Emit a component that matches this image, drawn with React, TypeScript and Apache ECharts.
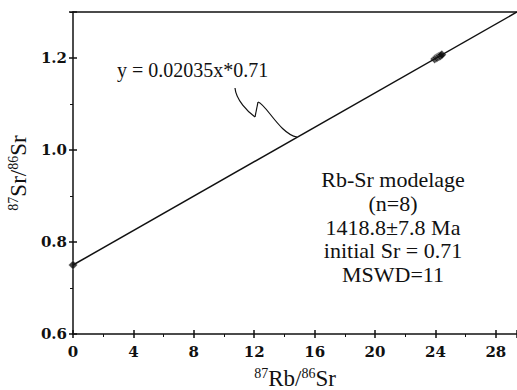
import React, { useEffect, useRef } from "react";
import * as echarts from "echarts";

const fitLine: [number, number][] = [
  [0, 0.75],
  [29.4, 1.3],
];
const samplePoints: [number, number][] = [
  [0, 0.75],
  [23.95, 1.198],
  [24.05, 1.2],
  [24.12, 1.201],
  [24.2, 1.203],
  [24.27, 1.204],
  [24.33, 1.205],
  [24.42, 1.207],
];
const xTicks = [0, 4, 8, 12, 16, 20, 24, 28];
const yTicks = [0.6, 0.8, 1.0, 1.2];
const equationText = "y = 0.02035x*0.71";
const infoLines = [
  "Rb-Sr modelage",
  "(n=8)",
  "1418.8±7.8 Ma",
  "initial Sr = 0.71",
  "MSWD=11",
];

const FONT = "Liberation Serif";

export default function App() {
  const ref = useRef<HTMLDivElement>(null);
  useEffect(() => {
    if (!ref.current) return;
    const chart = echarts.init(ref.current, null, { renderer: "svg" });
    const axisLine = { lineStyle: { color: "#111", width: 1.5 } };
    const nameRich = {
      n: { fontFamily: FONT, fontSize: 23, color: "#111" },
      sup: { fontFamily: FONT, fontSize: 14, color: "#111", verticalAlign: "top", padding: [0, 0, 10, 0] },
    };
    const labelStyle = {
      fontFamily: "DejaVu Serif",
      fontWeight: "bold",
      fontSize: 15,
      color: "#111",
    };
    chart.setOption({
      animation: false,
      backgroundColor: "#fff",
      textStyle: { fontFamily: FONT, color: "#111" },
      grid: { left: 73, right: 0, top: 12, bottom: 56, outerBoundsMode: "none", containLabel: false },
      xAxis: [
        {
          type: "value",
          min: 0,
          max: 29.4,
          interval: 4,
          position: "bottom",
          axisLine,
          axisTick: { show: true, inside: false, length: 4, lineStyle: { color: "#111", width: 1.5 } },
          minorTick: { show: true, splitNumber: 2, length: 3, lineStyle: { color: "#111" } },
          splitLine: { show: false },
          axisLabel: {
            show: true,
            margin: 10,
            showMaxLabel: false,
            formatter: (v: number) => (xTicks.includes(v) ? "{b|" + v + "}" : ""),
            rich: { b: labelStyle },
          },
          name: "{sup|87}{n|Rb/}{sup|86}{n|Sr}",
          nameLocation: "middle",
          nameGap: 32,
          nameTextStyle: { rich: nameRich },
        },
        {
          type: "value",
          min: 0,
          max: 29.4,
          interval: 4,
          position: "bottom",
          axisLine: { show: false },
          axisTick: { show: true, inside: true, length: 4, lineStyle: { color: "#111", width: 1.5 } },
          axisLabel: { show: false },
          splitLine: { show: false },
        },
        {
          type: "value",
          min: 0,
          max: 29.4,
          position: "top",
          axisLine,
          axisTick: { show: false },
          axisLabel: { show: false },
          splitLine: { show: false },
        },
      ],
      yAxis: [
        {
          type: "value",
          min: 0.6,
          max: 1.3,
          interval: 0.2,
          position: "left",
          axisLine,
          axisTick: { show: true, inside: false, length: 4, lineStyle: { color: "#111", width: 1.5 } },
          minorTick: { show: true, splitNumber: 2, length: 3, lineStyle: { color: "#111" } },
          splitLine: { show: false },
          axisLabel: {
            show: true,
            margin: 6,
            showMaxLabel: false,
            formatter: (v: number) =>
              yTicks.some((t) => Math.abs(t - v) < 1e-6) ? "{b|" + v.toFixed(1) + "}" : "",
            rich: { b: labelStyle },
          },
          name: "{sup|87}{n|Sr/}{sup|86}{n|Sr}",
          nameLocation: "middle",
          nameGap: 20,
          nameTextStyle: { rich: nameRich },
        },
        {
          type: "value",
          min: 0.6,
          max: 1.3,
          interval: 0.2,
          position: "left",
          axisLine: { show: false },
          axisTick: { show: true, inside: true, length: 4, lineStyle: { color: "#111", width: 1.5 } },
          axisLabel: { show: false },
          splitLine: { show: false },
        },
      ],
      series: [
        {
          type: "line",
          data: fitLine,
          showSymbol: false,
          lineStyle: { color: "#111", width: 1.5 },
          silent: true,
        },
        {
          type: "scatter",
          data: samplePoints,
          symbol: "diamond",
          symbolSize: 9,
          itemStyle: { color: "#111", borderColor: "#fff", borderWidth: 0.4 },
        },
      ],
      graphic: [
        {
          type: "text",
          left: 117,
          top: 60,
          style: { text: equationText, fontFamily: FONT, fontSize: 20, fill: "#111" },
        },
        {
          type: "bezierCurve",
          shape: { x1: 235, y1: 88, x2: 255, y2: 117, cpx1: 236, cpy1: 100, cpx2: 248, cpy2: 112 },
          style: { stroke: "#111", lineWidth: 1.2, fill: null },
        },
        {
          type: "line",
          shape: { x1: 255, y1: 117, x2: 258, y2: 102 },
          style: { stroke: "#111", lineWidth: 1.2 },
        },
        {
          type: "bezierCurve",
          shape: { x1: 258, y1: 102, x2: 297, y2: 137, cpx1: 266, cpy1: 104, cpx2: 280, cpy2: 134 },
          style: { stroke: "#111", lineWidth: 1.2, fill: null },
        },
        {
          type: "text",
          x: 393,
          y: 168,
          style: {
            text: infoLines.join("\n"),
            fontFamily: FONT,
            fontSize: 22,
            lineHeight: 23.7,
            fill: "#111",
            align: "center",
            verticalAlign: "top",
          },
        },
      ],
    });
    return () => chart.dispose();
  }, []);
  return (
    <div
      ref={ref}
      style={{ position: "fixed", left: 0, top: 0, width: 517, height: 390 }}
    />
  );
}
